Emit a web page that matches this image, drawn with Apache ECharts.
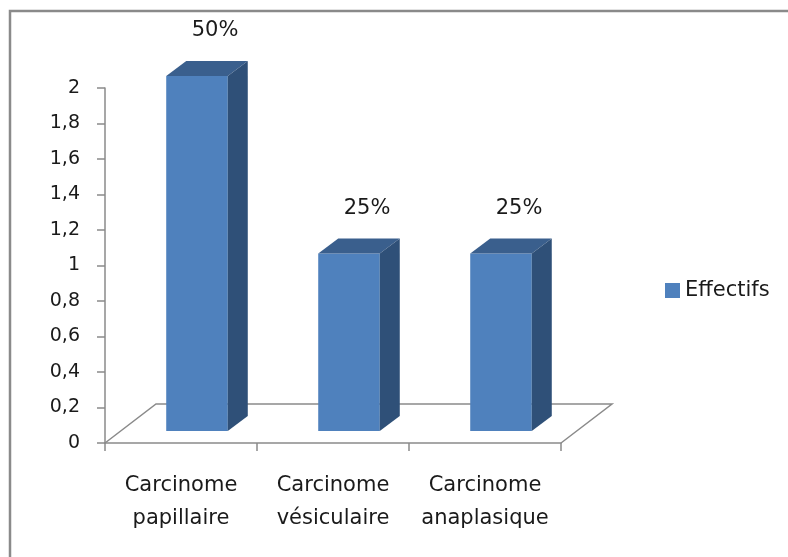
<!DOCTYPE html>
<html>
<head>
<meta charset="utf-8">
<script src="https://cdn.jsdelivr.net/npm/echarts@6/dist/echarts.min.js"></script>
<style>
  html, body { margin: 0; padding: 0; background: #fff; }
  #chart { width: 788px; height: 557px; }
</style>
</head>
<body>
<div id="chart"></div>
<script>
// Tumour types and their counts
const categories = ['Carcinome\npapillaire', 'Carcinome\nvésiculaire', 'Carcinome\nanaplasique'];
const effectifs = [2, 1, 1];
const seriesName = 'Effectifs';

const total = effectifs.reduce((a, b) => a + b, 0);
const FONT = 'DejaVu Sans';
const AXIS_GREY = '#8a8a8a';
const TEXT = '#1a1a1a';

// 3D look: bar front plane sits part-way into the floor, bars have a shallow depth
const FLOOR_DX = 51, FLOOR_DY = -39;
const BAR_OX = 16, BAR_OY = -12;
const BAR_DX = 20, BAR_DY = -15;

const chart = echarts.init(document.getElementById('chart'), null, { renderer: 'canvas' });

function floorItem(params, api) {
  const band = api.size([1, 0])[0];
  const first = api.coord([0, 0]);
  const last = api.coord([categories.length - 1, 0]);
  const left = first[0] - band / 2;
  const right = last[0] + band / 2;
  const y0 = first[1];
  return {
    type: 'polyline',
    shape: {
      points: [
        [left, y0],
        [left + FLOOR_DX, y0 + FLOOR_DY],
        [right + FLOOR_DX, y0 + FLOOR_DY],
        [right, y0]
      ]
    },
    style: { stroke: AXIS_GREY, lineWidth: 1.5, fill: null }
  };
}

function barItem(params, api) {
  const i = api.value(0);
  const v = api.value(1);
  const base = api.coord([i, 0]);
  const top = api.coord([i, v]);
  const band = api.size([1, 0])[0];
  const w = band * 0.405;
  const x0 = base[0] - w / 2 + BAR_OX;
  const x1 = x0 + w;
  const yb = base[1] + BAR_OY;
  const yt = top[1] + BAR_OY;
  const pct = Math.round(v / total * 100) + '%';
  return {
    type: 'group',
    children: [
      {
        type: 'rect',
        shape: { x: x0, y: yt, width: w, height: yb - yt },
        style: { fill: '#4F81BD' }
      },
      {
        type: 'polygon',
        shape: { points: [[x0, yt], [x1, yt], [x1 + BAR_DX, yt + BAR_DY], [x0 + BAR_DX, yt + BAR_DY]] },
        style: { fill: '#3A5F8D' }
      },
      {
        type: 'polygon',
        shape: { points: [[x1, yt], [x1 + BAR_DX, yt + BAR_DY], [x1 + BAR_DX, yb + BAR_DY], [x1, yb]] },
        style: { fill: '#2F5078' }
      },
      {
        type: 'text',
        x: (x0 + x1) / 2 + BAR_DX - 2,
        y: yt + BAR_DY - 30,
        style: {
          text: pct,
          fill: TEXT,
          font: '21px "' + FONT + '"',
          align: 'center',
          verticalAlign: 'middle'
        }
      }
    ]
  };
}

const option = {
  backgroundColor: '#ffffff',
  animation: false,
  graphic: [
    {
      type: 'rect',
      shape: { x: 10, y: 11, width: 800, height: 600 },
      style: { fill: null, stroke: AXIS_GREY, lineWidth: 2.5 },
      silent: true
    }
  ],
  grid: { left: 105, right: 227, top: 88, bottom: 114, containLabel: false },
  legend: {
    data: [seriesName],
    left: 665,
    top: 280,
    padding: 0,
    icon: 'rect',
    itemWidth: 15,
    itemHeight: 15,
    textStyle: { fontFamily: FONT, fontSize: 21, color: TEXT, lineHeight: 20 }
  },
  xAxis: {
    type: 'category',
    data: categories,
    axisLine: { show: true, lineStyle: { color: AXIS_GREY, width: 1.5 } },
    axisTick: { show: true, length: 8, lineStyle: { color: AXIS_GREY, width: 1.5 } },
    axisLabel: {
      margin: 26,
      fontFamily: FONT,
      fontSize: 21,
      lineHeight: 33,
      color: TEXT,
      interval: 0
    },
    splitLine: { show: false }
  },
  yAxis: {
    type: 'value',
    min: 0,
    max: 2,
    interval: 0.2,
    axisLine: { show: true, lineStyle: { color: AXIS_GREY, width: 1.5 } },
    axisTick: { show: true, length: 8, lineStyle: { color: AXIS_GREY, width: 1.5 } },
    axisLabel: {
      margin: 25,
      fontFamily: FONT,
      fontSize: 19,
      color: TEXT,
      formatter: v => String(Math.round(v * 10) / 10).replace('.', ',')
    },
    splitLine: { show: false }
  },
  series: [
    {
      name: 'floor',
      type: 'custom',
      clip: false,
      silent: true,
      renderItem: floorItem,
      data: [[0, 0]],
      encode: { x: 0, y: 1 },
      z: 1
    },
    {
      name: seriesName,
      type: 'custom',
      clip: false,
      itemStyle: { color: '#4F81BD' },
      renderItem: barItem,
      data: effectifs.map((v, i) => [i, v]),
      encode: { x: 0, y: 1 },
      z: 2
    }
  ]
};

chart.setOption(option);
</script>
</body>
</html>
